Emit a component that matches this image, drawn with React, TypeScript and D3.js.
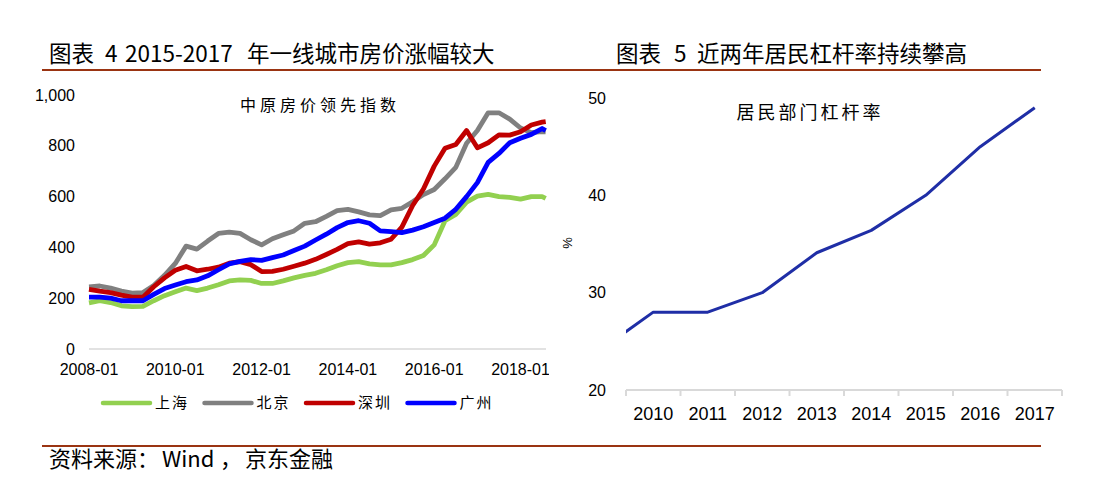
import * as d3 from "d3";
import React from "react";

// 中原房价领先指数 (quarterly samples)
const months = [
  "2008-01", "2008-04", "2008-07", "2008-10",
  "2009-01", "2009-04", "2009-07", "2009-10",
  "2010-01", "2010-04", "2010-07", "2010-10",
  "2011-01", "2011-04", "2011-07", "2011-10",
  "2012-01", "2012-04", "2012-07", "2012-10",
  "2013-01", "2013-04", "2013-07", "2013-10",
  "2014-01", "2014-04", "2014-07", "2014-10",
  "2015-01", "2015-04", "2015-07", "2015-10",
  "2016-01", "2016-04", "2016-07", "2016-10",
  "2017-01", "2017-04", "2017-07", "2017-10",
  "2018-01", "2018-04", "2018-07", "2018-08",
];

const shanghai = [
  182, 190, 183, 170, 167, 168, 190, 210, 225, 240, 230, 240,
  253, 268, 272, 270, 258, 258, 268, 280, 290, 298, 312, 328,
  340, 344, 335, 331, 331, 340, 352, 368, 410, 505, 530, 578,
  602, 609, 600, 597, 590, 600, 600, 593,
];
const beijing = [
  245, 248, 240, 228, 220, 222, 250, 290, 337, 405, 393, 425,
  455, 460, 455, 430, 410, 434, 450, 465, 495, 501, 522, 545,
  550, 540, 528, 525, 548, 554, 580, 608, 628, 670, 715, 810,
  860, 930, 930, 905, 870, 852, 856, 855,
];
const shenzhen = [
  235, 228, 222, 212, 204, 204, 245, 280, 310, 325, 308, 314,
  322, 338, 344, 332, 305, 306, 314, 326, 338, 353, 372, 392,
  415, 422, 413, 418, 432, 480, 565, 630, 720, 790, 805, 860,
  792, 812, 843, 842, 855, 882, 893, 895,
];
const guangzhou = [
  204, 204, 200, 190, 190, 190, 215, 238, 252, 265, 272, 288,
  312, 335, 345, 352, 349, 360, 370, 388, 405, 429, 452, 478,
  498, 505, 495, 465, 462, 458, 468, 481, 498, 515, 550, 600,
  655, 735, 770, 812, 830, 845, 868, 860,
];

const cityNames = ["上海", "北京", "深圳", "广州"];
const cityColors = ["#92d050", "#808080", "#c00000", "#0000ff"];
const citySeries = [shanghai, beijing, shenzhen, guangzhou];

const leftYTicks = [0, 200, 400, 600, 800, 1000];
const leftXTicks = ["2008-01", "2010-01", "2012-01", "2014-01", "2016-01", "2018-01"];

// 居民部门杠杆率 (%)
const years = [2009, 2010, 2011, 2012, 2013, 2014, 2015, 2016, 2017];
const leverage = [24, 28, 28, 30, 34.1, 36.4, 40, 45, 49];
const yearLabels = [2010, 2011, 2012, 2013, 2014, 2015, 2016, 2017];
const rightYTicks = [20, 30, 40, 50];

const monthIndex = (s: string) => {
  const [y, m] = s.split("-").map(Number);
  return (y - 2008) * 12 + (m - 1);
};

const brown = "#9a3412";
const sans = "'Liberation Sans', Arial, sans-serif";
const cjk = "'Noto Sans CJK SC', 'Noto Sans', sans-serif";

export default function App() {
  const lx = d3.scaleLinear().domain([0, 127]).range([89, 545.7]);
  const ly = d3.scaleLinear().domain([0, 1000]).range([349, 95]);

  const rx = d3.scaleLinear().domain([2009.5, 2017.5]).range([626, 1062]);
  const ry = d3.scaleLinear().domain([20, 50]).range([390, 98]);

  const cityLine = d3
    .line<number>()
    .x((_, i) => lx(monthIndex(months[i])))
    .y((d) => ly(d));

  const levLine = d3
    .line<number>()
    .x((_, i) => rx(years[i]))
    .y((d) => ry(d));

  const fmt = d3.format(",");
  const bandTicks = d3.range(2009.5, 2018.5, 1);

  return (
    <svg
      width={1097}
      height={495}
      style={{ position: "absolute", left: 0, top: 0, background: "#fff" }}
    >
      <defs>
        <clipPath id="leftClip">
          <rect x={0} y={80} width={549} height={310} />
        </clipPath>
        <clipPath id="rightClip">
          <rect x={626} y={80} width={440} height={310} />
        </clipPath>
      </defs>

      {/* headers */}
      <text y={62} fontFamily={cjk} fontSize={22.5} fill="#000">
        <tspan x={49}>图表</tspan>
        <tspan x={105}>4</tspan>
        <tspan x={125}>2015-2017</tspan>
        <tspan x={247}>年一线城市房价涨幅较大</tspan>
      </text>
      <text y={62} fontFamily={cjk} fontSize={22.5} fill="#000">
        <tspan x={616}>图表</tspan>
        <tspan x={674}>5</tspan>
        <tspan x={697}>近两年居民杠杆率持续攀高</tspan>
      </text>
      <line x1={42} x2={1041} y1={70} y2={70} stroke={brown} strokeWidth={2} />

      {/* left chart */}
      <text x={320} y={111} textAnchor="middle" fontFamily={cjk} fontSize={16} letterSpacing={4}>
        中原房价领先指数
      </text>
      <line x1={89} x2={546} y1={ly(0)} y2={ly(0)} stroke="#d9d9d9" strokeWidth={1.5} />
      {leftYTicks.map((t) => (
        <text
          key={t}
          x={75}
          y={ly(t)}
          dy="0.35em"
          textAnchor="end"
          fontFamily={sans}
          fontSize={16}
          fill="#000"
        >
          {fmt(t)}
        </text>
      ))}
      <g clipPath="url(#leftClip)">
        {leftXTicks.map((t) => (
          <text
            key={t}
            x={lx(monthIndex(t))}
            y={375}
            textAnchor="middle"
            fontFamily={sans}
            fontSize={16}
            fill="#000"
          >
            {t}
          </text>
        ))}
        {citySeries.map((s, i) => (
          <path
            key={cityNames[i]}
            d={cityLine(s) || ""}
            fill="none"
            stroke={cityColors[i]}
            strokeWidth={4.8}
            strokeLinejoin="round"
          />
        ))}
      </g>
      {cityNames.map((name, i) => (
        <g key={name} transform={`translate(${103 + i * 101.5}, 403)`}>
          <line x1={0} x2={47} y1={0} y2={0} stroke={cityColors[i]} strokeWidth={4.5} strokeLinecap="round" />
          <text x={52} y={0} dy="0.35em" fontFamily={cjk} fontSize={15} letterSpacing={2}>
            {name}
          </text>
        </g>
      ))}

      {/* right chart */}
      <text x={810} y={119} textAnchor="middle" fontFamily={cjk} fontSize={18} letterSpacing={3}>
        居民部门杠杆率
      </text>
      {rightYTicks.map((t) => (
        <text
          key={t}
          x={606}
          y={ry(t)}
          dy="0.35em"
          textAnchor="end"
          fontFamily={sans}
          fontSize={16}
          fill="#000"
        >
          {t}
        </text>
      ))}
      <text
        transform="translate(572, 243) rotate(-90)"
        textAnchor="middle"
        fontFamily={sans}
        fontSize={13}
      >
        %
      </text>
      <line x1={rx(2009.5)} x2={rx(2017.5)} y1={ry(20)} y2={ry(20)} stroke="#d9d9d9" strokeWidth={2} />
      {bandTicks.map((t) => (
        <line key={t} x1={rx(t)} x2={rx(t)} y1={ry(20)} y2={ry(20) + 6} stroke="#d9d9d9" strokeWidth={2} />
      ))}
      {yearLabels.map((y) => (
        <text
          key={y}
          x={rx(y)}
          y={420}
          textAnchor="middle"
          fontFamily={sans}
          fontSize={18}
          fill="#000"
        >
          {y}
        </text>
      ))}
      <g clipPath="url(#rightClip)">
        <path
          d={levLine(leverage) || ""}
          fill="none"
          stroke="#1f2ea6"
          strokeWidth={3}
          strokeLinejoin="round"
        />
      </g>

      {/* footer */}
      <line x1={42} x2={1041} y1={446} y2={446} stroke={brown} strokeWidth={2} />
      <text y={467} fontFamily={cjk} fontSize={22} fill="#000">
        <tspan x={49}>资料来源：</tspan>
        <tspan x={162}>Wind</tspan>
        <tspan x={220}>，</tspan>
        <tspan x={245}>京东金融</tspan>
      </text>
    </svg>
  );
}
